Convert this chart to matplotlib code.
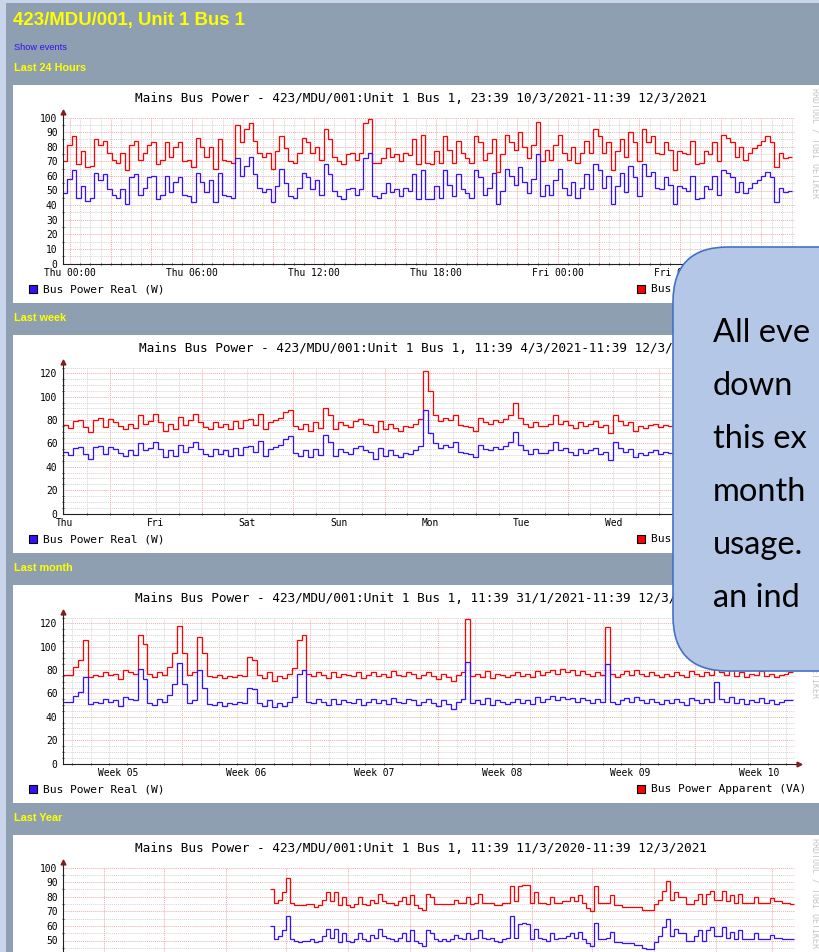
import numpy as np
import matplotlib
matplotlib.use('Agg')
import matplotlib.pyplot as plt
from matplotlib.patches import Rectangle, FancyBboxPatch

# ---------------- data ----------------
# "Last 24 Hours" graph: 36 h window, x in hours from Thu 00:00
day_red = [70, 81, 87, 68, 77, 66, 67, 85, 81, 84, 76, 71, 69, 76, 64, 81, 84, 71,
           76, 81, 83, 68, 71, 83, 73, 80, 83, 70, 71, 66, 86, 80, 73, 80, 65, 85, 71,
           70, 69, 95, 83, 92, 96, 84, 76, 73, 76, 65, 77, 87, 79, 70, 69, 76, 86, 83, 76,
           80, 71, 92, 85, 73, 70, 68, 75, 76, 71, 76, 96, 99, 69, 69, 72, 79, 73, 75, 70,
           76, 74, 85, 68, 88, 69,
           68, 77, 69, 87, 78, 69, 84, 76, 72, 69, 87, 83, 71, 76, 85, 63, 75, 88, 83, 78,
           90, 80, 72, 81, 97, 70, 78, 71, 81, 88, 76, 71, 80, 69, 76, 84, 76, 92, 87, 76,
           83, 64, 77, 85, 73, 90, 83, 70, 92, 83, 87, 76, 75, 83, 78, 64, 77, 76, 75, 84,
           68, 69, 77, 75, 83, 70, 88, 86, 83, 73, 80, 71, 76, 79, 81, 84, 87, 83, 66, 76,
           72, 73]
day_blue = [48, 58, 64, 45, 53, 43, 45, 62, 57, 61, 51, 47, 45, 51, 41, 59, 61, 47,
            52, 59, 60, 44, 47, 60, 49, 56, 59, 47, 46, 42, 62, 56, 49, 57, 42, 62, 47,
            46, 45, 72, 60, 67, 73, 61, 52, 49, 51, 42, 53, 65, 55, 46, 45, 52, 62, 59, 51,
            57, 47, 68, 61, 50, 46, 44, 51, 52, 47, 51, 72, 76, 46, 45, 48, 55, 49, 51, 46,
            52, 50, 61, 44, 64, 44,
            44, 53, 45, 64, 54, 46, 61, 51, 48, 45, 64, 59, 47, 52, 62, 41, 50, 65, 60, 54,
            66, 56, 48, 58, 75, 46, 54, 47, 57, 65, 52, 47, 56, 45, 52, 61, 51, 68, 64, 52,
            60, 41, 53, 62, 49, 67, 59, 46, 68, 60, 63, 52, 51, 59, 54, 41, 53, 52, 50, 60,
            44, 45, 53, 51, 60, 47, 64, 62, 59, 49, 56, 48, 52, 55, 57, 60, 63, 59, 42, 52,
            49, 50]
day_labels = ['Thu 00:00', 'Thu 06:00', 'Thu 12:00', 'Thu 18:00', 'Fri 00:00', 'Fri 06:00']

# "Last week" graph: x in days from Thu 4/3 00:00
week_red = [76, 73, 79, 80, 74, 70, 80, 82, 74,
            81, 78, 75, 72, 77, 73, 84, 77, 79, 85, 78, 71, 77, 72, 83, 76, 80, 85,
            78, 74, 72, 78, 74, 77, 72, 79, 73, 80, 81, 76, 85, 72, 78, 80, 82, 87,
            89, 75, 72, 77, 71, 78, 73, 90, 84, 72, 78, 76, 74, 79, 81, 77, 76, 70,
            79, 72, 77, 73, 71, 75, 74, 77, 81, 122, 105, 84, 79, 82, 80, 84, 76, 75,
            74, 71, 82, 78, 77, 80, 78, 81, 84, 95, 82, 77, 74, 78, 75, 75, 77, 84,
            77, 79, 76, 73, 78, 75, 77, 79, 74, 76, 69, 84, 79, 76, 78, 71, 75, 73,
            76, 77, 74, 76, 75, 78, 73, 76, 77, 74, 76, 75, 78, 76, 74, 77, 75, 76,
            74, 77, 75, 76, 74, 75, 77, 76, 74, 76, 75]
week_blue = [53, 50, 56, 57, 51, 47, 57, 58, 51,
             57, 55, 52, 49, 54, 50, 60, 54, 56, 61, 55, 48, 54, 49, 59, 53, 57, 61,
             55, 51, 49, 55, 51, 54, 49, 56, 50, 57, 58, 53, 62, 49, 55, 57, 59, 64,
             66, 52, 49, 54, 48, 55, 50, 67, 61, 49, 55, 53, 51, 56, 58, 54, 53, 47,
             56, 49, 54, 50, 48, 52, 51, 54, 58, 89, 69, 60, 56, 59, 57, 61, 53, 52,
             51, 48, 59, 55, 54, 57, 55, 58, 61, 70, 59, 54, 51, 55, 52, 52, 54, 61,
             54, 56, 53, 50, 55, 52, 54, 56, 51, 53, 46, 61, 56, 53, 55, 48, 52, 50,
             53, 54, 51, 53, 52, 55, 50, 53, 54, 51, 53, 52, 55, 53, 51, 54, 52, 53,
             51, 54, 52, 53, 51, 52, 54, 53, 51, 53, 52]
week_labels = ['Thu', 'Fri', 'Sat', 'Sun', 'Mon', 'Tue', 'Wed', 'Thu']

# "Last month" graph: x in days from Sun 31/1 00:00
month_red = [76, 76, 83, 89, 106, 74, 76, 75, 78, 76,
             77, 72, 80, 78, 77, 110, 102, 77, 74, 78,
             76, 83, 95, 118, 95, 76, 78, 108, 95, 75,
             74, 76, 73, 75, 74, 76, 75, 91, 89, 76,
             73, 78, 71, 75, 73, 77, 82, 106, 110, 77,
             75, 78, 76, 73, 78, 74, 77, 76, 75, 78,
             73, 76, 78, 75, 77, 74, 79, 76, 75, 78,
             77, 73, 76, 78, 75, 72, 77, 74, 71, 76,
             78, 124,
             75, 77, 74, 79, 73, 77, 76, 74, 76, 78, 75, 77, 74, 79, 76, 78, 80, 77, 81, 78,
             80, 76, 79, 77, 75, 78, 76,
             117,
             77, 74, 77, 79, 76, 80, 77, 75, 78, 76, 74, 77, 75, 78, 76, 74, 79, 77, 75, 78, 76,
             98, 78,
             76, 80, 75, 78, 74, 77, 76, 79, 75, 77, 74, 76, 77, 78]
month_blue = [53, 53, 58, 61, 74, 51, 53, 52, 55, 53,
              54, 49, 57, 55, 54, 81, 72, 52, 50, 55,
              53, 59, 68, 86, 68, 52, 54, 80, 65, 51,
              50, 53, 49, 52, 51, 53, 52, 65, 64, 52,
              49, 54, 48, 52, 49, 53, 57, 77, 80, 53,
              52, 55, 53, 50, 55, 51, 54, 53, 52, 55,
              50, 53, 55, 52, 54, 51, 56, 53, 52, 55,
              54, 50, 53, 55, 52, 49, 54, 51, 47, 53,
              55, 87,
              52, 54, 51, 56, 50, 54, 53, 51, 53, 55, 52, 54, 51, 57, 53, 55, 58, 54, 57, 55,
              56, 53, 56, 54, 52, 55, 53,
              85,
              53, 51, 54, 56, 53, 57, 54, 52, 55, 53, 51, 54, 52, 55, 53, 50, 56, 54, 52, 55, 53,
              70, 55,
              53, 57, 52, 55, 51, 54, 53, 56, 52, 54, 51, 53, 54, 54]
month_labels = ['Week 05', 'Week 06', 'Week 07', 'Week 08', 'Week 09', 'Week 10']

# "Last Year" graph: x in days from 11/3/2020, one value per 2 days from day 104
year_red = [85, 76, 78, 83, 93, 76, 74, 74, 74, 75, 75, 73, 74, 78, 83, 77, 83, 74, 80, 74,
            73, 75, 80, 75, 74, 78, 76, 82, 77, 76, 76, 74, 77, 80, 75,
            81, 74, 72, 71, 82, 80, 75, 75, 75, 75, 75, 78, 76, 76, 80, 75, 76, 82, 76, 76,
            76, 74, 74, 76, 76, 87, 77, 87, 88, 88, 76, 83, 76, 76, 75, 80, 76, 76, 77, 77,
            80, 77, 81, 76, 72, 70, 87, 76, 76, 76, 81, 74, 74, 73, 73, 73, 73, 73, 71, 71,
            71, 75, 78, 84, 91, 78, 83, 80, 80, 75, 75, 78, 82, 75, 82, 84, 78, 78, 84, 77,
            81, 76, 82, 76, 76, 76, 80, 76, 76, 76, 79, 77, 77, 76, 76, 75]
year_blue = [60, 51, 53, 57, 67, 51, 50, 49, 50, 50, 51, 49, 50, 53, 58, 52, 58, 49, 55, 50,
             49, 51, 55, 51, 50, 54, 52, 58, 53, 52, 51, 50, 52, 55, 50,
             57, 50, 48, 46, 57, 55, 51, 50, 51, 50, 51, 54, 52, 51, 55, 51, 52, 57, 52, 51,
             52, 50, 49, 51, 52, 67, 52, 61, 62, 61, 51, 58, 52, 51, 50, 55, 51, 52, 52, 53,
             55, 52, 56, 51, 48, 46, 62, 51, 51, 52, 56, 49, 49, 48, 48, 48, 47, 47, 45, 44,
             44, 49, 53, 59, 65, 53, 58, 55, 55, 50, 50, 53, 57, 50, 57, 59, 53, 53, 59, 52,
             56, 51, 57, 51, 51, 51, 55, 51, 51, 51, 54, 52, 52, 51, 51, 51]
year_first_day = 104
year_step_days = 2

callout_lines = ['All eve', 'down', 'this ex', 'month', 'usage.', 'an ind']

# ---------------- styling ----------------
W, H = 820, 952
MONO = 'DejaVu Sans Mono'
SANS = 'Liberation Sans'
RED = '#ff0000'
BLUE = '#3311ff'
GRID = '#d4d4d4'
MGRID = '#f2aaaa'
AXIS = '#202020'
ARROW = '#801f1f'
PAGE = '#8d9fb0'
YELLOW = '#ffff00'

plt.rcParams['font.family'] = [MONO]

fig = plt.figure(figsize=(W / 100, H / 100), dpi=100, facecolor=PAGE)
bg = fig.add_axes([0, 0, 1, 1], zorder=0)
bg.set_xlim(0, W)
bg.set_ylim(H, 0)
bg.axis('off')
bg.add_patch(Rectangle((0, 0), W, H, color=PAGE, lw=0))
bg.add_patch(Rectangle((0, 0), 6, H, color='#c8d5eb', lw=0))
bg.add_patch(Rectangle((0, 0), W, 3, color='#c8d5eb', lw=0))

bg.text(13, 25, '423/MDU/001, Unit 1 Bus 1', color=YELLOW, fontsize=13.4,
        fontweight='bold', family=SANS, va='baseline')
bg.text(14, 47, 'Show events', color='#3311ee', fontsize=6.7, family=SANS, va='center')


def chart(top, heading, title, xlim, ymax, ymajor, yminor, xmajor, xminor,
          label_pos, labels, red, blue, red_edges, blue_edges):
    bg.text(14, top - 17, heading, color=YELLOW, fontsize=7.8, fontweight='bold',
            family=SANS, va='center')
    bg.add_patch(Rectangle((13, top), W, 218, color='white', lw=0))
    bg.text(421, top + 14, title, fontsize=9.2, ha='center', va='center', color='black')
    bg.text(815, top + 58, 'RRDTOOL / TOBI OETIKER', rotation=270, fontsize=6,
            color='#c4c4c4', ha='center', va='center')
    if top + 204 < H:
        bg.add_patch(Rectangle((29, top + 200), 8, 8, fc=BLUE, ec='black', lw=0.8))
        bg.text(43, top + 204, 'Bus Power Real (W)', fontsize=8.1, va='center')
        bg.add_patch(Rectangle((637, top + 200), 8, 8, fc=RED, ec='black', lw=0.8))
        bg.text(651, top + 204, 'Bus Power Apparent (VA)', fontsize=8.1, va='center')

    ax = fig.add_axes([63 / W, 1 - (top + 178.5) / H, 732 / W, 146 / H], zorder=1)
    ax.set_facecolor('none')
    ax.set_xlim(*xlim)
    ax.set_ylim(0, ymax)

    for v in yminor:
        ax.axhline(v, color=GRID, lw=0.7, ls=(0, (1, 1)), zorder=0)
    for v in xminor:
        ax.axvline(v, color=GRID, lw=0.7, ls=(0, (1, 1)), zorder=0)
    for v in ymajor[1:]:
        ax.axhline(v, color=MGRID, lw=0.7, ls=(0, (1, 1)), zorder=0.5)
    for v in xmajor:
        ax.axvline(v, color=MGRID, lw=0.7, ls=(0, (1, 1)), zorder=0.5)

    ax.stairs(red, red_edges, baseline=None, color=RED, lw=0.9, zorder=2)
    ax.stairs(blue, blue_edges, baseline=None, color=BLUE, lw=0.9, zorder=2)

    ax.set_yticks(ymajor)
    ax.set_yticklabels([str(int(v)) for v in ymajor])
    ax.set_yticks(list(yminor) + list(ymajor), minor=True)
    ax.set_xticks(label_pos)
    ax.set_xticklabels(labels)
    ax.set_xticks(list(xminor) + list(xmajor), minor=True)
    ax.tick_params(which='major', length=0, labelsize=6.9, colors='black')
    ax.tick_params(axis='y', which='major', pad=4)
    ax.tick_params(axis='x', which='major', pad=3)
    ax.tick_params(which='minor', length=2, width=0.6, direction='inout', color=AXIS)
    for s in ('top', 'right'):
        ax.spines[s].set_visible(False)
    for s in ('left', 'bottom'):
        ax.spines[s].set_color(AXIS)
        ax.spines[s].set_linewidth(0.8)
    ax.plot([0, 0], [1, 1.035], transform=ax.transAxes, color=AXIS, lw=0.8, clip_on=False)
    ax.plot([1, 1.005], [0, 0], transform=ax.transAxes, color=AXIS, lw=0.8, clip_on=False)
    ax.plot([0], [1.038], transform=ax.transAxes, marker='^', ms=3.5, color=ARROW,
            clip_on=False)
    ax.plot([1.006], [0], transform=ax.transAxes, marker='>', ms=3.5, color=ARROW,
            clip_on=False)
    return ax


y100 = np.arange(0, 101, 10)
y100_minor = np.arange(5, 100, 10)
y120 = np.arange(0, 121, 20)
y120_minor = [v for v in np.arange(5, 126, 5) if v % 20]

# last 24 hours
chart(85, 'Last 24 Hours',
      'Mains Bus Power - 423/MDU/001:Unit 1 Bus 1, 23:39 10/3/2021-11:39 12/3/2021',
      (-0.35, 35.65), 100, y100, y100_minor,
      np.arange(0, 36, 2), [v for v in np.arange(0, 36, 0.5) if v % 2],
      np.arange(0, 31, 6), day_labels, day_red, day_blue,
      np.linspace(-0.35, 35.5, len(day_red) + 1),
      np.linspace(-0.35, 35.5, len(day_blue) + 1))

# last week
chart(335, 'Last week',
      'Mains Bus Power - 423/MDU/001:Unit 1 Bus 1, 11:39 4/3/2021-11:39 12/3/2021',
      (0.485, 8.485), 125, y120, y120_minor,
      np.arange(1, 9), [v for v in np.arange(0.5, 8.5, 0.25) if v % 1],
      np.arange(0.5, 8, 1), week_labels, week_red, week_blue,
      np.linspace(0.485, 8.465, len(week_red) + 1),
      np.linspace(0.485, 8.465, len(week_blue) + 1))

# last month
chart(585, 'Last month',
      'Mains Bus Power - 423/MDU/001:Unit 1 Bus 1, 11:39 31/1/2021-11:39 12/3/2021',
      (0.485, 40.485), 125, y120, y120_minor,
      np.arange(7, 41, 7), [v for v in np.arange(1, 41) if v % 7],
      np.arange(3.5, 40, 7), month_labels, month_red, month_blue,
      np.linspace(0.485, 40.4, len(month_red) + 1),
      np.linspace(0.485, 40.4, len(month_blue) + 1))

# last year (only the top of this graph is on the page)
months = np.arange(np.datetime64('2020-04'), np.datetime64('2021-04'),
                   np.timedelta64(1, 'M')).astype('datetime64[D]')
month_days = (months - np.datetime64('2020-03-11')).astype(int)
ax_year = chart(835, 'Last Year',
                'Mains Bus Power - 423/MDU/001:Unit 1 Bus 1, 11:39 11/3/2020-11:39 12/3/2021',
                (0.485, 366.485), 100, y100, y100_minor,
                month_days, [], [], [], year_red, year_blue,
                year_first_day + year_step_days * np.arange(len(year_red) + 1),
                year_first_day + year_step_days * np.arange(len(year_blue) + 1))
ax_year.set_yticks(np.arange(50, 101, 10))
ax_year.set_yticklabels([str(v) for v in np.arange(50, 101, 10)])

# callout box laid over the page
fg = fig.add_axes([0, 0, 1, 1], zorder=5)
fg.set_xlim(0, W)
fg.set_ylim(H, 0)
fg.axis('off')
fg.add_patch(FancyBboxPatch((673, 247), 300, 424,
                            boxstyle='round,pad=0,rounding_size=55',
                            fc='#b4c7e7', ec='#4472c4', lw=1.2))
for i, line in enumerate(callout_lines):
    fg.text(713, 342 + 53 * i, line, family='Lato', fontsize=23.5, va='baseline',
            color='black')

fig.savefig('out.png', dpi=100, facecolor=PAGE)
